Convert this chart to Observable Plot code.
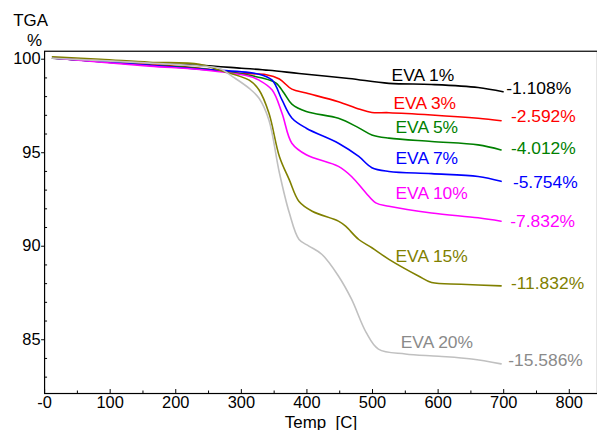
<!DOCTYPE html>
<html>
<head>
<meta charset="utf-8">
<script src="https://cdn.jsdelivr.net/npm/d3@7"></script>
<script src="https://cdn.jsdelivr.net/npm/@observablehq/plot@0.6"></script>
<style>
html, body { margin: 0; padding: 0; background: #fff; overflow: hidden; }
</style>
</head>
<body>
<div id="chart"></div>
<script>
// ---- data ----
const seriesNames = ["EVA 1%", "EVA 3%", "EVA 5%", "EVA 7%", "EVA 10%", "EVA 15%", "EVA 20%"];
const lossLabels = ["-1.108%", "-2.592%", "-4.012%", "-5.754%", "-7.832%", "-11.832%", "-15.586%"];

const eva1X = [12, 85, 160, 236, 300, 342, 388, 464, 525, 590, 661, 699];
const eva1Y = [100.05, 99.89, 99.79, 99.68, 99.52, 99.41, 99.24, 98.97, 98.71, 98.65, 98.49, 98.26];

const eva3X = [16, 160, 236, 297, 338, 358, 377, 399, 448, 479, 499, 525, 590, 661, 696];
const eva3Y = [100.08, 99.73, 99.52, 99.25, 99.17, 98.94, 98.40, 98.19, 97.73, 97.34, 97.15, 97.14, 97.02, 96.84, 96.71];

const eva5X = [16, 160, 236, 332, 353, 365, 377, 399, 448, 479, 499, 525, 590, 661, 696];
const eva5Y = [100.05, 99.68, 99.50, 98.99, 98.72, 98.19, 97.60, 97.20, 96.84, 96.33, 95.95, 95.78, 95.60, 95.42, 95.15];

const eva7X = [16, 160, 236, 327, 347, 362, 377, 399, 448, 479, 499, 525, 590, 661, 696];
const eva7Y = [100.05, 99.68, 99.47, 99.20, 98.88, 97.82, 96.86, 96.31, 95.51, 94.80, 94.20, 94.00, 93.88, 93.73, 93.47];

const eva10X = [16, 160, 236, 312, 327, 347, 362, 377, 399, 448, 468, 490, 505, 525, 590, 661, 696];
const eva10Y = [100.05, 99.63, 99.45, 99.09, 98.88, 98.35, 97.11, 95.51, 94.89, 94.27, 93.73, 92.85, 92.32, 92.14, 91.78, 91.52, 91.34];

const eva15X = [12, 85, 160, 236, 267, 312, 327, 342, 358, 373, 388, 408, 448, 459, 479, 499, 525, 570, 590, 635, 696];
const eva15Y = [100.13, 100.0, 99.84, 99.73, 99.41, 98.88, 98.35, 97.12, 94.80, 93.56, 92.39, 91.87, 91.34, 91.07, 90.36, 89.92, 89.30, 88.41, 88.06, 87.97, 87.88];

const eva20X = [12, 160, 236, 267, 287, 312, 327, 342, 358, 373, 388, 403, 423, 448, 468, 490, 509, 550, 601, 651, 696];
const eva20Y = [100.05, 99.79, 99.63, 99.50, 99.06, 98.44, 97.91, 96.75, 93.93, 91.8, 90.36, 90.01, 89.56, 88.41, 87.17, 85.41, 84.50, 84.24, 84.12, 83.97, 83.71];

// label anchor points (data units)
const nameLabelX = [529, 532, 535, 535, 535, 535, 543];
const nameLabelY = [99.15, 97.66, 96.33, 94.71, 92.85, 89.46, 84.88];
const lossLabelX = [704, 711, 711, 714, 710, 711, 707];
const lossLabelY = [98.46, 96.95, 95.24, 93.40, 91.32, 88.02, 83.87];

const xMajorTicks = [0, 100, 200, 300, 400, 500, 600, 700, 800];
const xMinorTicks = [50, 150, 250, 350, 450, 550, 650, 750];
const yMajorTicks = [85, 90, 95, 100];
const yMinorTicks = [83, 84, 86, 87, 88, 89, 91, 92, 93, 94, 96, 97, 98, 99];
const xDomain = [0, 843];
const yDomain = [82.125, 100.426];

// ---- styles ----
const lineColors = ["#000000", "#ff0000", "#008000", "#0000ff", "#ff00ff", "#808000", "#c0c0c0"];
const textColors = ["#000000", "#ff0000", "#008000", "#0000ff", "#ff00ff", "#808000", "#8a8a8a"];

const xs = [eva1X, eva3X, eva5X, eva7X, eva10X, eva15X, eva20X];
const ys = [eva1Y, eva3Y, eva5Y, eva7Y, eva10Y, eva15Y, eva20Y];

const lineMarks = [];
const labelMarks = [];
seriesNames.forEach((name, i) => {
  const rows = xs[i].map((x, j) => ({x, y: ys[i][j]}));
  lineMarks.push(Plot.line(rows, {x: "x", y: "y", stroke: lineColors[i], strokeWidth: 1.6, curve: "catmull-rom"}));
  labelMarks.push(Plot.text([{x: nameLabelX[i], y: nameLabelY[i], t: name}],
    {x: "x", y: "y", text: "t", fill: textColors[i], textAnchor: "start", fontSize: 17.5}));
  labelMarks.push(Plot.text([{x: lossLabelX[i], y: lossLabelY[i], t: lossLabels[i]}],
    {x: "x", y: "y", text: "t", fill: textColors[i], textAnchor: "start", fontSize: 17.5}));
});

const chart = Plot.plot({
  width: 600,
  height: 432,
  marginLeft: 44.3,
  marginRight: 0,
  marginTop: 51,
  marginBottom: 37,
  style: {fontFamily: "'Liberation Sans', Arial, sans-serif", fontSize: "16.5px", background: "#fff", color: "#000", overflow: "visible"},
  x: {domain: xDomain},
  y: {domain: yDomain},
  marks: [
    Plot.frame({stroke: "#000", strokeWidth: 1.2}),
    Plot.axisX({ticks: xMajorTicks, tickSize: -4, tickPadding: 7, tickFormat: d => d === 0 ? "-0" : String(d), label: null, fontSize: 16.5}),
    Plot.axisX({ticks: xMinorTicks, tickSize: -2.5, tickFormat: () => "", label: null}),
    Plot.axisY({ticks: yMajorTicks, tickSize: 3, tickPadding: 1, label: null, fontSize: 16.5}),
    Plot.axisY({ticks: yMinorTicks, tickSize: -3, tickFormat: () => "", label: null}),
    ...lineMarks,
    ...labelMarks,
    Plot.text(["TGA"], {frameAnchor: "top-left", text: d => d, dx: -14, dy: -31, textAnchor: "middle", lineAnchor: "middle", fontSize: 17}),
    Plot.text(["%"], {frameAnchor: "top-left", text: d => d, dx: -10, dy: -11, textAnchor: "middle", lineAnchor: "middle", fontSize: 17}),
    Plot.text(["Temp  [C]"], {frameAnchor: "bottom", text: d => d, dy: 29, textAnchor: "middle", lineAnchor: "middle", fontSize: 17})
  ]
});
document.getElementById("chart").appendChild(chart);
</script>
</body>
</html>
